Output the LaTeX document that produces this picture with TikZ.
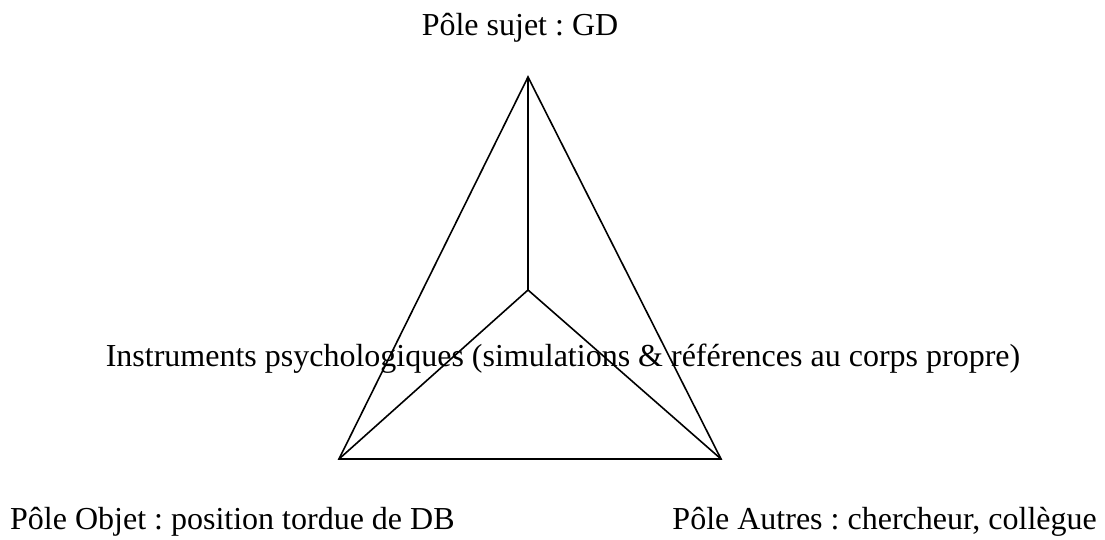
\documentclass[tikz,border=0pt]{standalone}
\usepackage{fontspec}
\setmainfont{Liberation Serif}
\frenchspacing
\begin{document}
\begin{tikzpicture}[x=1pt,y=-1pt,
  lbl/.style={inner sep=0pt,anchor=base,font=\fontsize{32}{38}\selectfont},
  edge/.style={line width=1.6pt,line join=miter}]
\useasboundingbox (0,0) rectangle (1105,540);
\coordinate (top) at (528,77);
\coordinate (ctr) at (528,290);
\coordinate (bl) at (339,459);
\coordinate (br) at (721,459);
\draw[edge] (top) -- (bl) -- (br) -- cycle;
\draw[edge] (top) -- (ctr);
\draw[edge] (bl) -- (ctr) -- (br);
\node[lbl] (sujet) at (520,36) {Pôle sujet : GD};
\node[lbl] (instr) at (563,366) {Instruments psychologiques (simulations \& références au corps propre)};
\node[lbl,anchor=base west] (objet) at (10,529) {Pôle Objet : position tordue de DB};
\node[lbl,anchor=base east] (autres) at (1097,529) {Pôle Autres : chercheur, collègue};
\end{tikzpicture}
\end{document}
